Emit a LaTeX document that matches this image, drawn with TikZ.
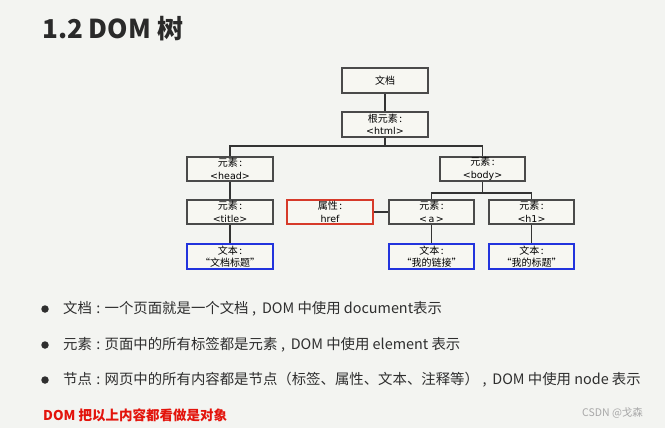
\documentclass[tikz,border=0pt]{standalone}
\usepackage{fontspec}
\setmainfont{Noto Sans CJK SC}
\newfontfamily\latinbox{DejaVu Sans}
\newcommand{\cln}{\hspace{0.3em}:\hspace{0.3em}}
\newcommand{\cma}{\hspace{0.25em},\hspace{0.4em}}
\begin{document}
\begin{tikzpicture}[x=1pt,y=-1pt,
  box/.style={draw=boxgray,line width=1.6pt,fill=boxfill,minimum width=86pt,minimum height=24.5pt,inner sep=0pt,align=center,font=\fontsize{10}{12.5}\selectfont,text=black},
  redbox/.style={box,draw=attrred},
  bluebox/.style={box,draw=textblue},
  conn/.style={line width=1.2pt,draw=linegray},
  bullettext/.style={anchor=west,inner sep=0pt,font=\fontsize{14.4}{16}\selectfont,text=bodytext},
  dot/.style={circle,fill=bodytext,inner sep=0pt,minimum size=7.5pt}]
\definecolor{bg}{HTML}{F3F4F1}
\definecolor{boxfill}{HTML}{F7F7F2}
\definecolor{boxgray}{HTML}{4A4A4A}
\definecolor{linegray}{HTML}{333333}
\definecolor{attrred}{HTML}{D63A2A}
\definecolor{textblue}{HTML}{2233DD}
\definecolor{bodytext}{HTML}{2E2E2E}
\definecolor{titletext}{HTML}{2A2A2A}
\definecolor{emred}{HTML}{E3140C}
\definecolor{wm}{HTML}{A8A8A8}
\fill[bg] (0,0) rectangle (665,428);
\useasboundingbox (0,0) rectangle (665,428);

% title
\node[anchor=west,inner sep=0pt,font=\fontsize{26}{30}\selectfont\bfseries,text=titletext] (title) at (42,28.5) {1.2 DOM 树};

% tree boxes
\node[box] (doc) at (385,80.5) {文档};
\node[box] (root) at (385,124.5) {根元素\,:\\{\latinbox\fontsize{9.5}{12}\selectfont <html>}};
\node[box] (head) at (230,169) {元素\,:\\{\latinbox\fontsize{9.5}{12}\selectfont <head>}};
\node[box,minimum width=85pt] (body) at (482.5,169) {元素\,:\\{\latinbox\fontsize{9.5}{12}\selectfont <body>}};
\node[box] (ttl) at (230,212) {元素\,:\\{\latinbox\fontsize{9.5}{12}\selectfont <title>}};
\node[redbox] (href) at (330,212) {属性\,:\\{\latinbox\fontsize{9.5}{12}\selectfont href}};
\node[box,minimum width=85pt] (a) at (431.5,212) {元素\,:\\{\latinbox\fontsize{9.5}{12}\selectfont <\,a\,>}};
\node[box,minimum width=85pt] (h1) at (531.5,212) {元素\,:\\{\latinbox\fontsize{9.5}{12}\selectfont <h1>}};
\node[bluebox,minimum height=25pt] (t1) at (230,256.5) {文本\,:\\“文档标题”};
\node[bluebox,minimum width=85pt,minimum height=25pt] (t2) at (431.5,256.5) {文本\,:\\“我的链接”};
\node[bluebox,minimum width=85pt,minimum height=25pt] (t3) at (531.5,256.5) {文本\,:\\“我的标题”};

% connectors
\coordinate (j1) at (385,146);
\coordinate (j2) at (482.5,193);
\draw[conn] (doc.south) -- (root.north);
\draw[conn] (root.south) -- (j1);
\draw[conn] (head.north) |- (j1) -| (body.north);
\draw[conn] (body.south) -- (j2);
\draw[conn] (a.north) |- (j2) -| (h1.north);
\draw[conn] (href.east) -- (a.west);
\draw[conn] (ttl.north) -- (head.south);
\draw[conn] (ttl.south) -- (t1.north);
\draw[conn] (a.south) -- (t2.north);
\draw[conn] (h1.south) -- (t3.north);

% bullets
\node[dot] (b1) at (45,309) {};
\node[bullettext] (l1) at (63,309) {文档\cln 一个页面就是一个文档\cma DOM 中使用 document表示};
\node[dot] (b2) at (45,345) {};
\node[bullettext] (l2) at (63,345) {元素\cln 页面中的所有标签都是元素\cma DOM 中使用 element 表示};
\node[dot] (b3) at (45,380) {};
\node[bullettext] (l3) at (63,380) {节点\cln 网页中的所有内容都是节点（标签、属性、文本、注释等）\cma DOM 中使用 node 表示};

\node[anchor=west,inner sep=0pt,font=\fontsize{13.5}{16}\selectfont\bfseries,text=emred] (obj) at (43,415) {DOM 把以上内容都看做是对象};
\node[anchor=west,inner sep=0pt,font=\fontsize{10.5}{12}\selectfont,text=wm] (wmk) at (582,413) {CSDN @戈森};
\end{tikzpicture}
\end{document}
